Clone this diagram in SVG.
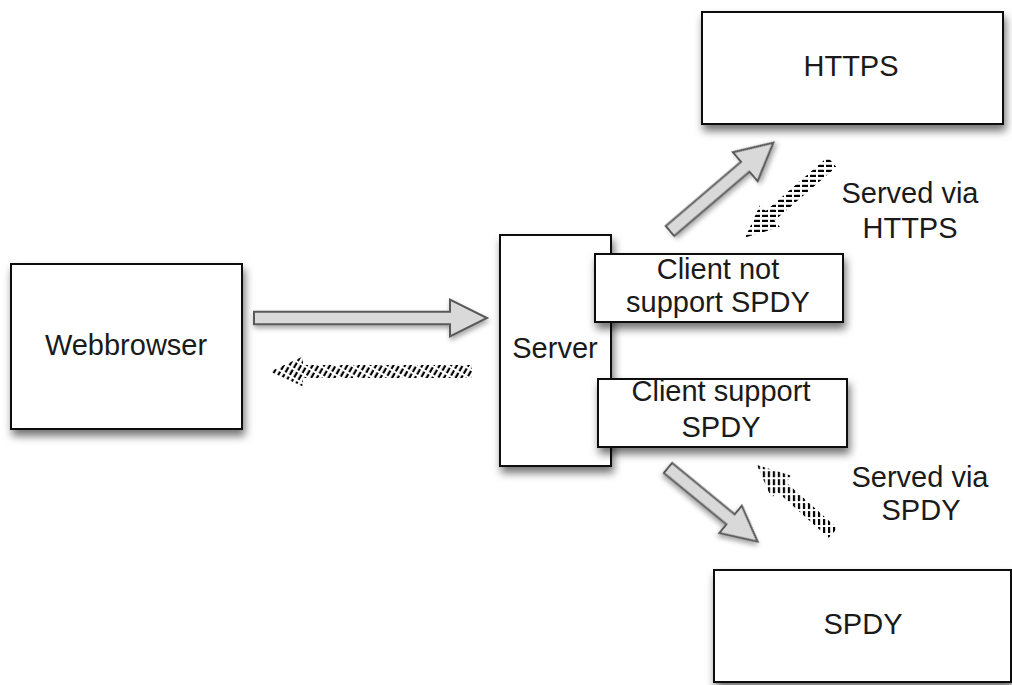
<svg xmlns="http://www.w3.org/2000/svg" width="1012" height="685" viewBox="0 0 1012 685">
<style>
.box{fill:#fff;stroke:#111;stroke-width:2;filter:url(#sh)}
.t{font-family:"Liberation Sans",Arial,sans-serif;font-size:29px;fill:#1a1a1a;text-anchor:middle}
.blk{fill:#d9d9d9;stroke:#595959;stroke-width:2;stroke-linejoin:miter;filter:url(#ash)}
</style>
<defs>
<filter id="sh" x="-20%" y="-20%" width="140%" height="150%">
<feDropShadow dx="2" dy="6" stdDeviation="4" flood-color="#000" flood-opacity="0.55"/>
</filter>
<filter id="ash" x="-20%" y="-50%" width="140%" height="200%">
<feDropShadow dx="1" dy="3" stdDeviation="2.5" flood-color="#000" flood-opacity="0.35"/>
</filter>
<pattern id="hH" patternUnits="userSpaceOnUse" width="8" height="5" patternTransform="rotate(-60)">
<rect x="0" y="0" width="6" height="2.2" fill="#000"/>
</pattern>
<pattern id="hA" patternUnits="userSpaceOnUse" width="8" height="5" patternTransform="rotate(41)">
<rect x="0" y="0" width="6" height="2.2" fill="#000"/>
</pattern>
<pattern id="hB" patternUnits="userSpaceOnUse" width="8" height="5" patternTransform="rotate(48)">
<rect x="0" y="0" width="6" height="2.2" fill="#000"/>
</pattern>
</defs>
<rect width="1012" height="685" fill="#fff"/>

<g id="connectors">
<path class="blk" transform="translate(254,318)" d="M0,-6.3 L196,-6.3 L196,-18.5 L233,0 L196,18.5 L196,6.3 L0,6.3 Z"/>
<path fill="url(#hH)" transform="translate(472,371.5) rotate(180)" d="M0,-6.5 L169,-6.5 L169,-15 L202,0 L169,15 L169,6.5 L0,6.5 Z"/>
<path class="blk" transform="translate(670,231) rotate(-40.5)" d="M0,-6.5 L99,-6.5 L99,-19 L136,0 L99,19 L99,6.5 L0,6.5 Z"/>
<path fill="url(#hA)" transform="translate(832,162) rotate(139)" d="M0,-6.5 L82,-6.5 L82,-15 L115,0 L82,15 L82,6.5 L0,6.5 Z"/>
<path class="blk" transform="translate(668,468) rotate(39.4)" d="M0,-6.5 L81,-6.5 L81,-17.7 L116,0 L81,17.7 L81,6.5 L0,6.5 Z"/>
<path fill="url(#hB)" transform="translate(833,533) rotate(-138.2)" d="M0,-6.5 L69,-6.5 L69,-15 L102,0 L69,15 L69,6.5 L0,6.5 Z"/>
</g>

<g id="webbrowser">
<rect class="box" x="11" y="264" width="231" height="165"/>
<text class="t" x="126" y="355">Webbrowser</text>
</g>
<g id="server">
<rect class="box" x="500" y="235" width="111" height="231"/>
<text class="t" x="555" y="358">Server</text>
</g>
<g id="client-not">
<rect class="box" x="595" y="254" width="248" height="68"/>
<text class="t" x="718" y="279">Client not</text>
<text class="t" x="718" y="312">support SPDY</text>
</g>
<g id="client-support">
<rect class="box" x="598" y="379" width="249" height="68"/>
<text class="t" x="721" y="401">Client support</text>
<text class="t" x="721" y="437">SPDY</text>
</g>
<g id="https">
<rect class="box" x="702" y="12" width="301" height="112"/>
<text class="t" x="851" y="76">HTTPS</text>
</g>
<g id="spdy">
<rect class="box" x="714" y="570" width="297" height="112"/>
<text class="t" x="863" y="634">SPDY</text>
</g>
<g id="served-https">
<text class="t" x="910" y="203">Served via</text>
<text class="t" x="910" y="238">HTTPS</text>
</g>
<g id="served-spdy">
<text class="t" x="920" y="487">Served via</text>
<text class="t" x="921" y="520">SPDY</text>
</g>
</svg>
